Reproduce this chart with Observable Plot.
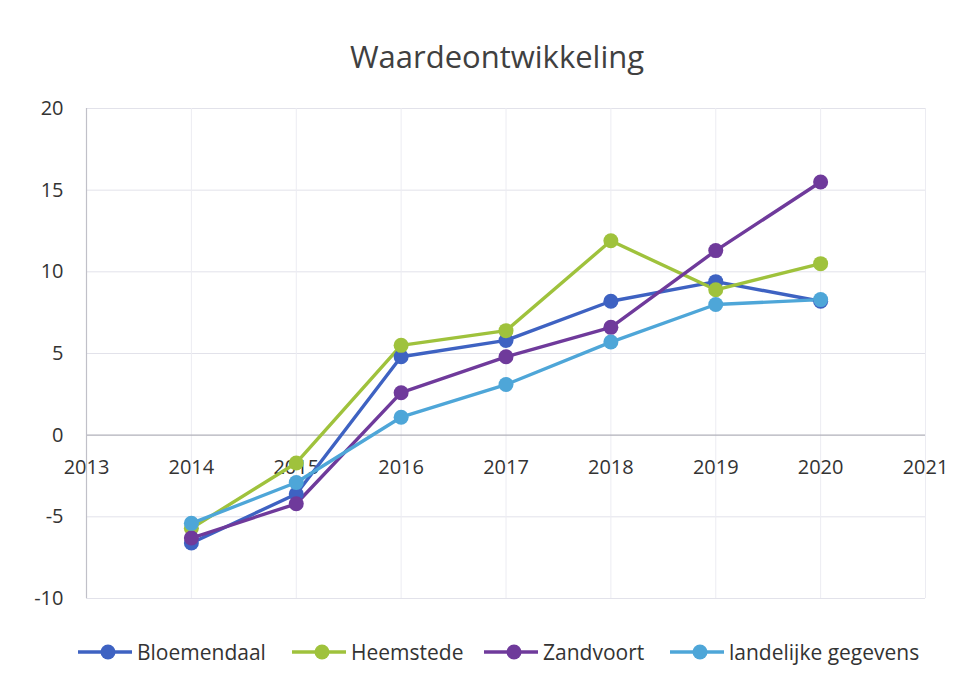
<!DOCTYPE html>
<html>
<head>
<meta charset="utf-8">
<script src="https://cdn.jsdelivr.net/npm/d3@7"></script>
<script src="https://cdn.jsdelivr.net/npm/@observablehq/plot@0.6"></script>
<style>
  body { margin: 0; background: #fff; font-family: "Open Sans", sans-serif; }
  #wrap { width: 966px; height: 691px; position: relative; overflow: hidden; }
  #title { position: absolute; top: 35px; left: 0; width: 994px; text-align: center; font-size: 31px; color: #404040; }
  #chart { position: absolute; top: 90px; left: 0; }
  #legend { position: absolute; top: 638px; left: 0; width: 966px; height: 30px; font-size: 21px; color: #333; }
  .item { position: absolute; top: 0; display: flex; align-items: center; }
  .item svg { margin-right: 3px; }
</style>
</head>
<body>
<div id="wrap">
  <div id="title">Waardeontwikkeling</div>
  <div id="chart"></div>
  <div id="legend"></div>
</div>
<script>
const years = [2014, 2015, 2016, 2017, 2018, 2019, 2020];
const seriesNames = ["Bloemendaal", "Heemstede", "Zandvoort", "landelijke gegevens"];
const bloemendaal = [-6.6, -3.6, 4.8, 5.8, 8.2, 9.4, 8.2];
const heemstede   = [-5.7, -1.7, 5.5, 6.4, 11.9, 8.9, 10.5];
const zandvoort   = [-6.3, -4.2, 2.6, 4.8, 6.6, 11.3, 15.5];
const landelijk   = [-5.4, -2.9, 1.1, 3.1, 5.7, 8.0, 8.3];
const colors = ["#3e62c2", "#9fc23c", "#6f3a9b", "#4ea6d8"];
const xTickLabels = [2013, 2014, 2015, 2016, 2017, 2018, 2019, 2020, 2021];
const yTicks = [-10, -5, 0, 5, 10, 15, 20];

const valueSets = [bloemendaal, heemstede, zandvoort, landelijk];
const data = [];
seriesNames.forEach((s, i) => years.forEach((y, j) => data.push({series: s, year: y, value: valueSets[i][j]})));

const plot = Plot.plot({
  width: 966,
  height: 530,
  marginTop: 18,
  marginBottom: 22,
  marginLeft: 86,
  marginRight: 41,
  style: {fontFamily: "Open Sans, sans-serif", fontSize: "20px", color: "#333", background: "transparent"},
  x: {domain: [2013, 2021], axis: null},
  y: {domain: [-10, 20]},
  color: {domain: seriesNames, range: colors},
  marks: [
    Plot.gridY(yTicks.filter(d => d !== 0), {stroke: "#e2e2ea", strokeOpacity: 1, strokeWidth: 1}),
    Plot.gridX(xTickLabels.slice(1), {stroke: "#ececf2", strokeOpacity: 1, strokeWidth: 1}),
    Plot.ruleY([0], {stroke: "#b0b0ba", strokeWidth: 1.2}),
    Plot.ruleX([2013], {stroke: "#c0c0c8", strokeWidth: 1.2}),
    Plot.axisY(yTicks, {tickSize: 0, tickPadding: 23, label: null, fontSize: 20, fill: "#333", tickFormat: d => String(d)}),
    Plot.text(xTickLabels, {x: d => d, y: 0, dy: 32, text: d => String(d), fontSize: 20, fill: "#333"}),
    Plot.line(data, {x: "year", y: "value", stroke: "series", strokeWidth: 3.4}),
    Plot.dot(data, {x: "year", y: "value", fill: "series", r: 7.5})
  ]
});
document.getElementById("chart").appendChild(plot);

const legendX = [76, 290, 482, 668];
const legend = document.getElementById("legend");
seriesNames.forEach((s, i) => {
  const item = document.createElement("div");
  item.className = "item";
  item.style.left = legendX[i] + "px";
  item.innerHTML = `<svg width="58" height="26"><line x1="2" y1="13" x2="56" y2="13" stroke="${colors[i]}" stroke-width="3.4"/><circle cx="32" cy="13" r="7.5" fill="${colors[i]}"/></svg><span>${s}</span>`;
  legend.appendChild(item);
});
</script>
</body>
</html>
